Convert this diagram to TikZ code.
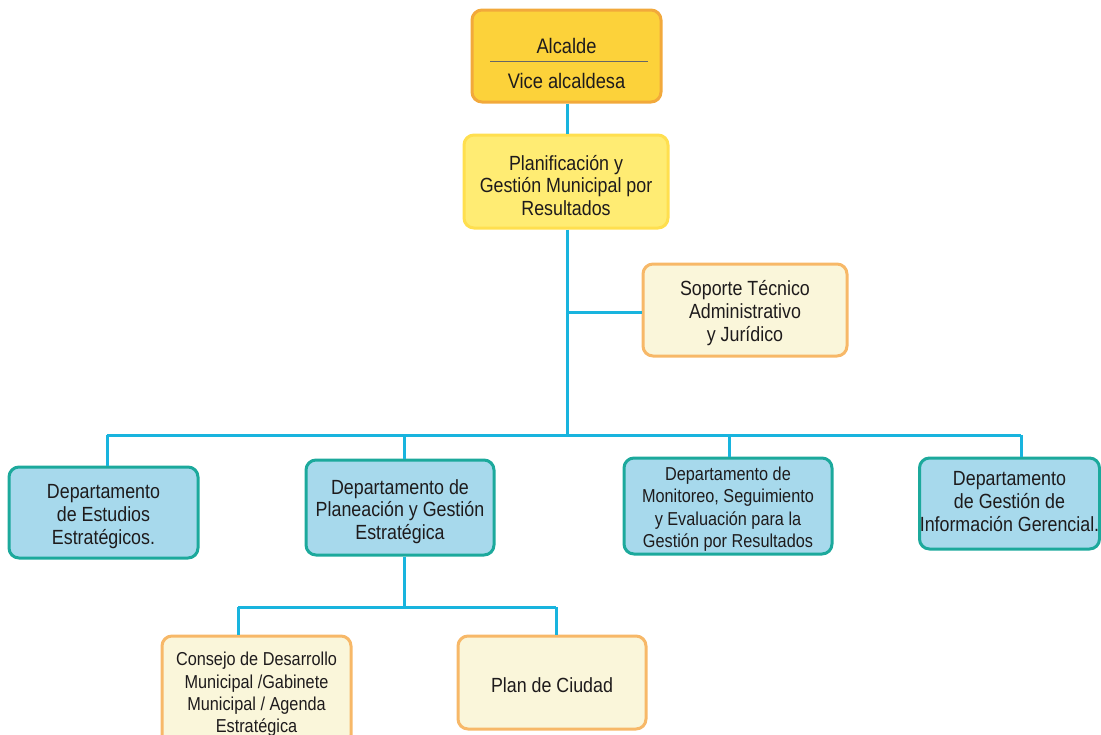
\documentclass[tikz,border=0pt]{standalone}
\usepackage{fontspec}
\setmainfont[FakeStretch=0.87]{Liberation Sans}
\definecolor{txt}{HTML}{1E1B1C}
\definecolor{link}{HTML}{18B4DE}
\definecolor{goldfill}{HTML}{FCD23A}
\definecolor{goldline}{HTML}{F2A93B}
\definecolor{yelfill}{HTML}{FFEC73}
\definecolor{yelline}{HTML}{FFDF4F}
\definecolor{creamfill}{HTML}{FAF6DA}
\definecolor{creamline}{HTML}{F7B868}
\definecolor{bluefill}{HTML}{A7D9EC}
\definecolor{blueline}{HTML}{1CA99C}
\tikzset{
  box/.style={draw, line width=3pt, rounded corners=10pt, inner sep=0pt},
  head/.style={box, fill=goldfill, draw=goldline},
  plan/.style={box, fill=yelfill, draw=yelline},
  support/.style={box, fill=creamfill, draw=creamline},
  dept/.style={box, fill=bluefill, draw=blueline},
  tx/.style={align=center, text=txt, inner sep=0pt,
    font=\fontsize{20.5}{22.6}\selectfont},
  txsmall/.style={tx, font=\fontsize{18.7}{22.4}\selectfont},
  label/.style={text=txt, inner sep=0pt, font=\fontsize{21}{24}\selectfont},
  conn/.style={draw=link, line width=3pt}
}
\begin{document}
\begin{tikzpicture}[x=1pt, y=-1pt]
\useasboundingbox (0,0) rectangle (1101,734);

% junction points of the connector network
\coordinate (hub) at (567,435);
\coordinate (b1) at (107,435);
\coordinate (b2) at (404,435);
\coordinate (b3) at (729,435);
\coordinate (b4) at (1021,435);
\coordinate (side) at (567,312);
\coordinate (c1) at (238,607);
\coordinate (c2) at (556,607);
\coordinate (cm) at (404,607);

% head of the organisation
\node[head, minimum width=189pt, minimum height=92pt] (alc) at (566.5,56) {};
\node[label] (alcT) at (566.5,46) {Alcalde};
\node[label] (viceT) at (566.5,81) {Vice alcaldesa};
\draw[gray!80!black, line width=1pt] (490,61) -- (648,61);

% planning unit and its support
\node[plan, minimum width=204pt, minimum height=93pt] (pgm) at (566,181.5) {};
\node[tx, yshift=-4pt] (pgmT) at (pgm)
  {Planificación y\\Gestión Municipal por\\Resultados};
\node[support, minimum width=204pt, minimum height=92pt] (sop) at (745,310) {};
\node[tx, yshift=-3pt] (sopT) at (sop)
  {Soporte Técnico\\Administrativo\\y Jurídico};

% departments
\node[dept, minimum width=189pt, minimum height=91pt] (est) at (103.5,512.5) {};
\node[tx, yshift=-4pt] (estT) at (est)
  {Departamento\\de Estudios\\Estratégicos.};
\node[dept, minimum width=188pt, minimum height=95pt] (pla) at (400,507.5) {};
\node[tx, yshift=-4pt] (plaT) at (pla)
  {Departamento de\\Planeación y Gestión\\Estratégica};
\node[dept, minimum width=208pt, minimum height=96pt] (mon) at (728,506) {};
\node[txsmall, yshift=-3pt] (monT) at (mon)
  {Departamento de\\Monitoreo, Seguimiento\\y Evaluación para la\\Gestión por Resultados};
\node[dept, minimum width=180pt, minimum height=91pt] (inf) at (1009.5,503.5) {};
\node[tx, yshift=2pt] (infT) at (inf)
  {Departamento\\de Gestión de\\Información Gerencial.};

% bodies under the planning department
\node[support, minimum width=189pt, minimum height=109pt] (con) at (256.5,690.5) {};
\node[txsmall, yshift=-4pt] (conT) at (con)
  {Consejo de Desarrollo\\Municipal /Gabinete\\Municipal / Agenda\\Estratégica};
\node[support, minimum width=188pt, minimum height=93pt] (ciu) at (552,682.5) {};
\node[tx, yshift=-3pt] (ciuT) at (ciu) {Plan de Ciudad};

% connector lines
\path[conn] (alc.south -| hub) -- (pgm.north -| hub);
\path[conn] (pgm.south -| hub) -- (hub);
\path[conn] (side) -- (side -| sop.west);
\path[conn] (b1) -- (b4);
\path[conn] (b1) -- (b1 |- est.north);
\path[conn] (b2) -- (b2 |- pla.north);
\path[conn] (b3) -- (b3 |- mon.north);
\path[conn] (b4) -- (b4 |- inf.north);
\path[conn] (pla.south -| cm) -- (cm);
\path[conn] (c1) -- (c2);
\path[conn] (c1) -- (c1 |- con.north);
\path[conn] (c2) -- (c2 |- ciu.north);
\end{tikzpicture}
\end{document}
